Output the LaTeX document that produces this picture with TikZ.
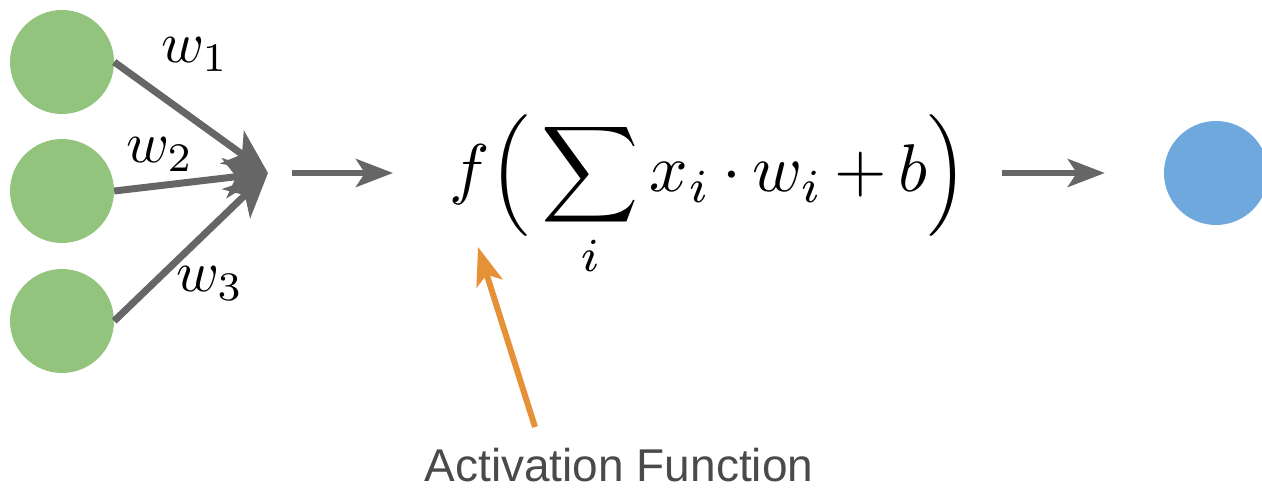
\documentclass[tikz,border=0pt]{standalone}
\usepackage{amsmath}
\usepackage{fontspec}
\newfontfamily\notefont{Liberation Sans}
\usepackage{tikz}
\usetikzlibrary{arrows.meta,positioning,calc}

\definecolor{inputgreen}{HTML}{93C47D}
\definecolor{outputblue}{HTML}{6FA8DC}
\definecolor{arrowgray}{HTML}{666666}
\definecolor{noteorange}{HTML}{E69138}
\definecolor{notegray}{HTML}{4A4A4A}

\begin{document}
\begin{tikzpicture}[x=1pt,y=1pt,
  unit/.style={circle,inner sep=0pt,minimum size=104pt},
  input/.style={unit,fill=inputgreen},
  output/.style={unit,fill=outputblue},
  weight/.style={draw=arrowgray,line width=7pt,-{Stealth[length=44pt,width=40pt,inset=12pt]}},
  flow/.style={draw=arrowgray,line width=6pt,-{Stealth[length=37pt,width=28pt,inset=9pt]}},
  note arrow/.style={draw=noteorange,line width=6pt,-{Stealth[length=38pt,width=27pt,inset=9pt]}},
  wlabel/.style={anchor=base west,inner sep=0pt,scale=5.8}
]
\useasboundingbox (0,0) rectangle (1262,-489);

\def\yone{-62}
\def\ytwo{-191}
\def\ythree{-321}
\def\ymid{-173}

% input units
\node[input] (in1) at (62,\yone) {};
\node[input] (in2) at (62,\ytwo) {};
\node[input] (in3) at (62,\ythree) {};

\coordinate (sum) at (268,\ymid);

\draw[weight] (in1.east) -- (sum);
\draw[weight] (in2.east) -- (sum);
\draw[weight] (in3.east) -- (sum);

\node[wlabel] (w1) at (160,-63) {$w_1$};
\node[wlabel] (w2) at (125,-163) {$w_2$};
\node[wlabel] (w3) at (175,-292) {$w_3$};

% neuron
\node[anchor=base west,inner sep=0pt,scale=6.75] (neuron) at (448,-192)
  {$\displaystyle f\Big(\sum_i x_i\mkern-1mu\cdot\mkern-1mu w_i\mkern-1mu+\mkern-1mu b\Big)$};

\node[output] (out) at (1216,\ymid) {};
\coordinate (outtail) at (1002,\ymid);

\draw[flow,shorten <=24pt,shorten >=55pt] (sum) -- (neuron.west |- sum);
\draw[flow,shorten >=59pt] (outtail) -- (out.west);

% activation note
\node[anchor=base,inner sep=0pt,text=notegray,font=\notefont\fontsize{46}{52}\selectfont] (actnote) at (619,-481) {Activation Function};
\coordinate (acttail) at (535,-427);
\coordinate (acttip) at (478,-247);
\draw[note arrow] (acttail) -- (acttip);

\end{tikzpicture}
\end{document}
